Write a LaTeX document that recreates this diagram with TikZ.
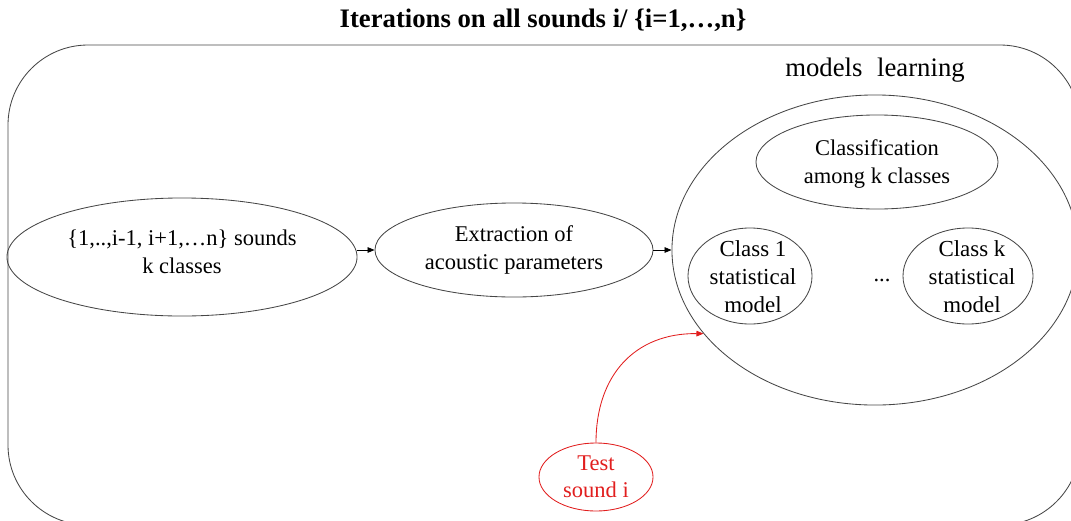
\documentclass[tikz,border=0pt]{standalone}
\usepackage{fontspec}
\setmainfont{Liberation Serif}
\usetikzlibrary{shapes.geometric, arrows.meta}
\definecolor{testred}{RGB}{225,30,30}
\definecolor{linegray}{RGB}{70,70,70}
\begin{document}
\begin{tikzpicture}[x=0.025cm, y=-0.025cm,
  ell/.style={draw=linegray, line width=0.6pt, ellipse, inner sep=0pt},
  txt/.style={align=center, inner sep=0pt, font=\fontsize{16}{19.5}\selectfont},
  ctxt/.style={align=center, inner sep=0pt, font=\fontsize{16.3}{20}\selectfont},
  arr/.style={-{Triangle[length=5pt,width=4pt]}, line width=0.6pt}
]
\useasboundingbox (0,0) rectangle (1071,520);
\clip (0,0) rectangle (1071,520);
\node[inner sep=0pt, font=\bfseries\fontsize{19}{23}\selectfont] (title) at (543,20) {Iterations on all sounds i/ \{i=1,…,n\}};
\draw[linegray, line width=0.6pt, rounded corners=2cm] (8,45) rectangle (1080,525);

\node[ell, minimum width=8.75cm, minimum height=2.95cm] (src) at (182,257) {};
\node[txt] (srct) at (182,252) {\{1,..,i-1, i+1,…n\} sounds\\k classes};

\node[ell, minimum width=6.95cm, minimum height=2.35cm] (ext) at (514,250) {};
\node[txt] (extt) at (514,250) {Extraction of\\acoustic parameters};

\node[ell, minimum width=10.15cm, minimum height=7.75cm] (ml) at (875,250) {};
\node[inner sep=0pt, font=\fontsize{19}{23}\selectfont] (mlt) at (875,70) {models\hskip0.55em learning};

\node[ell, minimum width=6.05cm, minimum height=2.35cm] (cls) at (877,162) {};
\node[txt] (clst) at (877,164) {Classification\\among k classes};

\node[ell, minimum width=3.1cm, minimum height=2.4cm] (c1) at (750,276) {};
\node[ctxt] (c1t) at (753,277) {Class 1\\statistical\\model};

\node[ell, minimum width=3.25cm, minimum height=2.4cm] (ck) at (968,276) {};
\node[ctxt] (ckt) at (972,277) {Class k\\statistical\\model};

\node[txt] (dots) at (882,280) {...};

\node[ell, draw=testred, minimum width=2.85cm, minimum height=1.7cm] (test) at (596,477) {};
\node[txt, text=testred] (testt) at (596,477) {Test\\sound i};

\draw[arr] (src.east |- ext.west) -- (ext.west);
\draw[arr] (ext.east) -- (ml.west);
\draw[arr, testred] (test.north) .. controls (596,375) and (635,333) .. (ml.206);
\end{tikzpicture}
\end{document}
